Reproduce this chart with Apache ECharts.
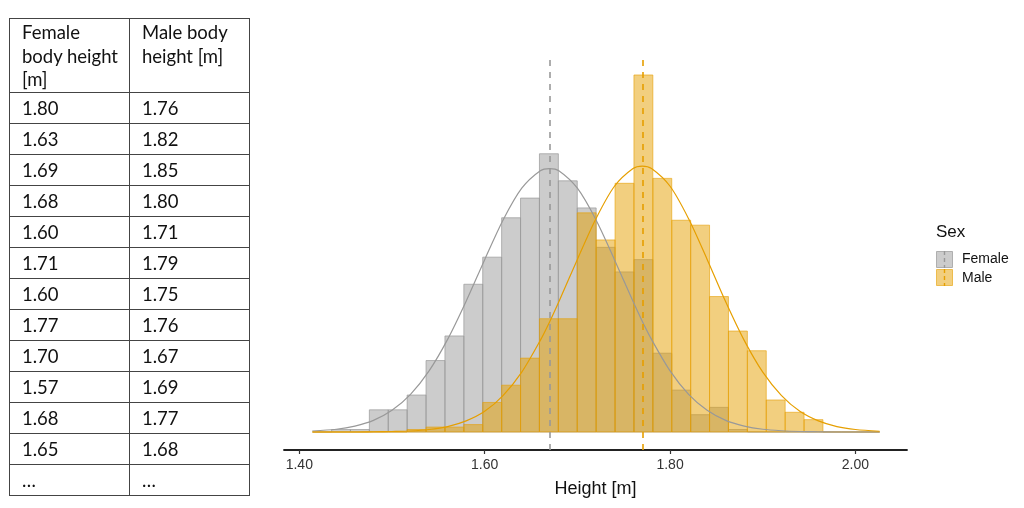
<!DOCTYPE html>
<html>
<head>
<meta charset="utf-8">
<script src="https://cdn.jsdelivr.net/npm/echarts@6/dist/echarts.min.js"></script>
<style>
  html, body { margin: 0; padding: 0; background: #fff; }
  #wrap { position: relative; width: 1024px; height: 508px; overflow: hidden; }
  #chart { position: absolute; left: 0; top: 0; width: 1024px; height: 508px; }
  #tbl {
    position: absolute; left: 9px; top: 18px;
    border-collapse: collapse;
    font-family: Lato, "Open Sans", sans-serif; font-size: 18.5px; color: #111;
  }
  #tbl td {
    border: 1px solid #444; width: 107px; padding: 0 0 0 12px;
    height: 30px; line-height: 24px; vertical-align: middle;
  }
  #tbl tr.head td { height: 71px; vertical-align: top; padding-top: 2px; line-height: 23.5px; }
</style>
</head>
<body>
<div id="wrap">
  <div id="chart"></div>
  <table id="tbl"></table>
</div>
<script>
// sample rows shown in the table
const tableHead = ['Female<br>body height<br>[m]', 'Male body<br>height [m]'];
const femaleSample = ['1.80', '1.63', '1.69', '1.68', '1.60', '1.71', '1.60', '1.77', '1.70', '1.57', '1.68', '1.65', '…'];
const maleSample   = ['1.76', '1.82', '1.85', '1.80', '1.71', '1.79', '1.75', '1.76', '1.67', '1.69', '1.77', '1.68', '…'];

// histogram: 30 bins shared by both groups
const binStart = 1.4144;
const binWidth = 0.02039;
const femaleCounts = [0, 1, 1, 9, 9, 15, 29, 39, 60, 71, 87, 95, 113, 102, 91, 75, 65, 70, 32, 17, 7, 10, 1, 0, 0, 0, 0, 0, 0, 0];
const maleCounts   = [0, 0, 0, 0, 0, 1, 2, 2, 3, 12, 19, 30, 46, 46, 89, 78, 101, 145, 103, 86, 84, 55, 41, 33, 13, 8, 5, 0, 0, 0];

// fitted curves (count scale)
const curveX      = [1.414, 1.44, 1.46, 1.48, 1.50, 1.52, 1.54, 1.56, 1.58, 1.60, 1.62, 1.64, 1.66, 1.67, 1.68, 1.70, 1.72, 1.74, 1.76, 1.77, 1.78, 1.80, 1.82, 1.84, 1.86, 1.88, 1.90, 1.92, 1.94, 1.96, 1.98, 2.00, 2.026];
const femaleCurve = [0.4, 1.1, 2.4, 4.7, 8.8, 15.3, 24.8, 37.6, 53.1, 70.0, 86.2, 99.0, 106.1, 107.0, 106.1, 99.0, 86.2, 70.0, 53.1, 45.0, 37.6, 24.8, 15.3, 8.8, 4.7, 2.4, 1.1, 0.5, 0.2, 0.1, 0, 0, 0];
const maleCurve   = [0, 0, 0, 0.1, 0.2, 0.4, 1.0, 2.2, 4.5, 8.4, 14.9, 24.3, 37.2, 44.7, 52.9, 70.1, 86.6, 99.8, 107.0, 108.0, 107.0, 99.8, 86.6, 70.1, 52.9, 37.2, 24.3, 14.9, 8.4, 4.5, 2.2, 1.0, 0.3];

const femaleMean = 1.671;
const maleMean = 1.770;
const xTicks = [1.4, 1.6, 1.8, 2.0];

// table
let html = '<tr class="head"><td>' + tableHead[0] + '</td><td>' + tableHead[1] + '</td></tr>';
for (let i = 0; i < femaleSample.length; i++) {
  html += '<tr><td>' + femaleSample[i] + '</td><td>' + maleSample[i] + '</td></tr>';
}
document.getElementById('tbl').innerHTML = html;

const GRAY = '#999999';
const ORANGE = '#E69F00';

function binData(counts) {
  return counts.map((c, i) => [binStart + i * binWidth, binStart + (i + 1) * binWidth, c]);
}

function histSeries(name, counts, fill, stroke) {
  return {
    name: name,
    type: 'custom',
    silent: true,
    data: binData(counts),
    encode: { x: [0, 1], y: 2 },
    renderItem: function (params, api) {
      const p0 = api.coord([api.value(0), api.value(2)]);
      const p1 = api.coord([api.value(1), 0]);
      return {
        type: 'rect',
        shape: { x: p0[0], y: p0[1], width: p1[0] - p0[0], height: p1[1] - p0[1] },
        style: { fill: fill, stroke: stroke, lineWidth: 1 }
      };
    }
  };
}

function curveSeries(name, ys, color, mean) {
  return {
    name: name,
    type: 'line',
    silent: true,
    data: curveX.map((x, i) => [x, ys[i]]),
    smooth: 0.3,
    showSymbol: false,
    lineStyle: { color: color, width: 1.2 },
    z: 3,
    markLine: {
      silent: true,
      symbol: 'none',
      label: { show: false },
      lineStyle: { color: color, type: [6, 6], width: 1.6, opacity: 1 },
      data: [{ xAxis: mean }]
    }
  };
}

const myChart = echarts.init(document.getElementById('chart'));
const options = {
  animation: false,
  grid: { left: 284, right: 117, top: 57, bottom: 58 },
  xAxis: {
    type: 'value',
    min: 1.3835,
    max: 2.0556,
    axisLine: { onZero: false, lineStyle: { color: '#222', width: 1.8 } },
    axisTick: { customValues: xTicks, length: 4, lineStyle: { color: '#333', width: 1.2 } },
    axisLabel: {
      customValues: xTicks,
      formatter: v => v.toFixed(2),
      color: '#333', fontSize: 14, fontFamily: 'Liberation Sans', margin: 8
    },
    splitLine: { show: false },
    name: 'Height [m]',
    nameLocation: 'middle',
    nameGap: 30,
    nameTextStyle: { color: '#111', fontSize: 18, fontFamily: 'Liberation Sans' }
  },
  yAxis: {
    type: 'value',
    min: -7.32,
    max: 152.3,
    show: false,
    splitLine: { show: false }
  },
  series: [
    histSeries('Female', femaleCounts, 'rgba(153,153,153,0.5)', 'rgba(153,153,153,0.7)'),
    histSeries('Male', maleCounts, 'rgba(230,159,0,0.5)', 'rgba(230,159,0,0.6)'),
    curveSeries('Female curve', femaleCurve, GRAY, femaleMean),
    curveSeries('Male curve', maleCurve, ORANGE, maleMean)
  ],
  graphic: [
    { type: 'text', left: 936, top: 224, style: { text: 'Sex', fontSize: 17, fontFamily: 'Liberation Sans', fill: '#111' } },
    { type: 'rect', shape: { x: 936.5, y: 251.5, width: 16, height: 16 }, style: { fill: 'rgba(153,153,153,0.5)', stroke: 'rgba(153,153,153,0.7)', lineWidth: 1 } },
    { type: 'line', shape: { x1: 944.5, y1: 251, x2: 944.5, y2: 268 }, style: { stroke: GRAY, lineWidth: 1.4, lineDash: [4, 3] } },
    { type: 'rect', shape: { x: 936.5, y: 269.5, width: 16, height: 16 }, style: { fill: 'rgba(230,159,0,0.5)', stroke: 'rgba(230,159,0,0.6)', lineWidth: 1 } },
    { type: 'line', shape: { x1: 944.5, y1: 269, x2: 944.5, y2: 286 }, style: { stroke: ORANGE, lineWidth: 1.4, lineDash: [4, 3] } },
    { type: 'text', left: 962, top: 252, style: { text: 'Female', fontSize: 14, fontFamily: 'Liberation Sans', fill: '#111' } },
    { type: 'text', left: 962, top: 271, style: { text: 'Male', fontSize: 14, fontFamily: 'Liberation Sans', fill: '#111' } }
  ]
};
myChart.setOption(options);
</script>
</body>
</html>
